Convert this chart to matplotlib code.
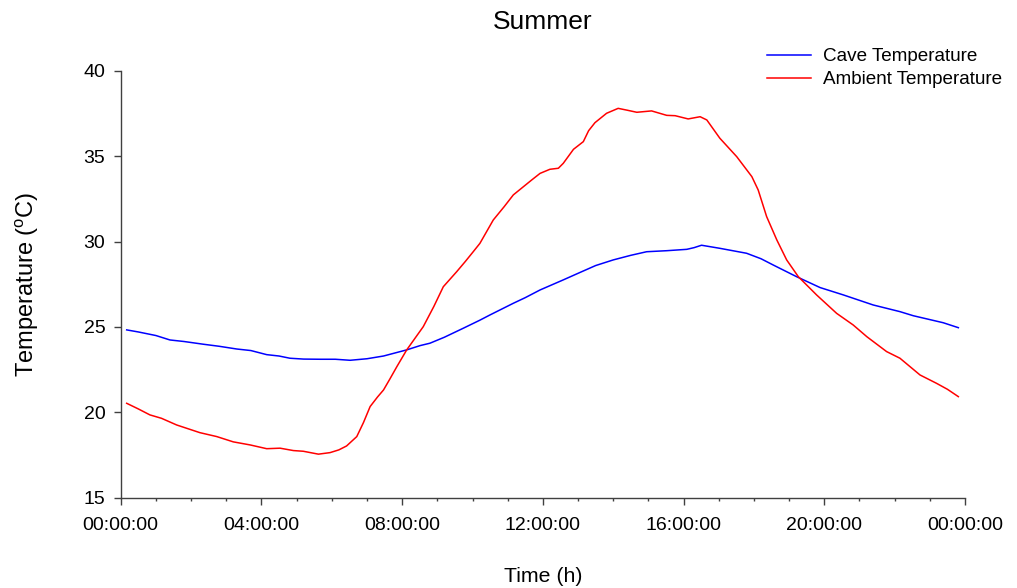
import matplotlib
matplotlib.use("Agg")
from matplotlib import pyplot as plt
from matplotlib.ticker import MultipleLocator, FuncFormatter

plt.rcParams["font.family"] = ["Liberation Sans", "DejaVu Sans"]
plt.rcParams["mathtext.fontset"] = "custom"
plt.rcParams["mathtext.rm"] = "Liberation Sans"
plt.rcParams["mathtext.it"] = "Liberation Sans:italic"

# values (hours since midnight, deg C)
cave_hours = [0.17, 0.5, 1.0, 1.4, 1.8, 2.35, 2.8, 3.3, 3.7, 4.15, 4.5, 4.81, 5.2,
              5.67, 6.1, 6.52, 7.0, 7.47, 8.13, 8.51, 8.79, 9.2, 9.74, 10.21, 10.5,
              11.16, 11.5, 11.92, 12.58, 13.06, 13.5, 14.0, 14.5, 14.95, 15.52,
              16.09, 16.3, 16.51, 17.03, 17.79, 18.2, 18.55, 19.21, 19.88, 20.54,
              21.39, 22.15, 22.53, 23.38, 23.81]
cave_temp = [24.83, 24.71, 24.5, 24.24, 24.15, 23.99, 23.87, 23.71, 23.62, 23.38,
             23.3, 23.17, 23.12, 23.11, 23.11, 23.05, 23.14, 23.3, 23.66, 23.91,
             24.05, 24.4, 24.93, 25.4, 25.71, 26.39, 26.72, 27.17, 27.76, 28.2,
             28.6, 28.93, 29.2, 29.41, 29.47, 29.55, 29.65, 29.79, 29.61, 29.32,
             29.0, 28.63, 27.95, 27.31, 26.88, 26.29, 25.9, 25.66, 25.25, 24.96]

amb_hours = [0.17, 0.5, 0.83, 1.16, 1.59, 2.25, 2.73, 3.2, 3.68, 4.15, 4.53, 4.91,
             5.19, 5.62, 5.95, 6.2, 6.42, 6.71, 6.9, 7.09, 7.3, 7.47, 7.65, 7.85,
             8.13, 8.6, 8.9, 9.17, 9.55, 9.8, 10.02, 10.21, 10.59, 10.9, 11.16,
             11.68, 11.92, 12.2, 12.44, 12.58, 12.87, 13.15, 13.3, 13.48, 13.81,
             14.14, 14.4, 14.67, 15.09, 15.52, 15.76, 16.13, 16.47, 16.66, 17.03,
             17.51, 17.94, 18.12, 18.36, 18.65, 18.93, 19.26, 19.78, 20.35, 20.82,
             21.21, 21.77, 22.15, 22.72, 23.19, 23.5, 23.81]
amb_temp = [20.53, 20.2, 19.85, 19.65, 19.26, 18.81, 18.58, 18.27, 18.09, 17.87,
            17.9, 17.76, 17.72, 17.55, 17.64, 17.8, 18.03, 18.58, 19.4, 20.34,
            20.9, 21.31, 21.95, 22.68, 23.66, 25.02, 26.2, 27.36, 28.24, 28.85,
            29.41, 29.9, 31.27, 32.05, 32.74, 33.61, 34.0, 34.24, 34.3, 34.59,
            35.41, 35.86, 36.5, 36.97, 37.52, 37.81, 37.7, 37.58, 37.66, 37.4,
            37.38, 37.19, 37.32, 37.13, 36.06, 34.98, 33.81, 33.03, 31.47, 30.1,
            28.93, 27.95, 26.88, 25.8, 25.12, 24.43, 23.56, 23.17, 22.19, 21.7,
            21.35, 20.92]

fig = plt.figure(figsize=(10.17, 5.88), dpi=100)
ax = fig.add_axes([0.1187, 0.1536, 0.8302, 0.7257])

ax.plot(cave_hours, cave_temp, color="#0000ff", lw=1.1, label="Cave Temperature")
ax.plot(amb_hours, amb_temp, color="#ff0000", lw=1.1, label="Ambient Temperature")

ax.set_xlim(0, 24)
ax.set_ylim(15, 40)
ax.xaxis.set_major_locator(MultipleLocator(4))
ax.xaxis.set_minor_locator(MultipleLocator(1))
ax.yaxis.set_major_locator(MultipleLocator(5))
ax.xaxis.set_major_formatter(FuncFormatter(lambda h, p: "%02d:00:00" % (int(round(h)) % 24)))

for s in ["top", "right"]:
    ax.spines[s].set_visible(False)
for s in ["left", "bottom"]:
    ax.spines[s].set_color("#404040")
    ax.spines[s].set_linewidth(1.0)
ax.tick_params(which="major", length=5, width=1, color="#404040", labelsize=14)
ax.tick_params(which="minor", length=2.3, width=1, color="#404040")
ax.tick_params(axis="x", which="major", pad=9)
ax.tick_params(axis="y", which="major", pad=6)

ax.set_title("Summer", fontsize=19, pad=30)
ax.set_xlabel("Time (h)", fontsize=15.3, labelpad=24)
ax.set_ylabel(r"Temperature ($^{\mathrm{o}}$C)", fontsize=17, labelpad=31)

ax.legend(loc="upper right", bbox_to_anchor=(0.985, 0.918), bbox_transform=fig.transFigure,
          frameon=False, fontsize=13.6, handlelength=2.33, handletextpad=0.63,
          labelspacing=0.3, borderaxespad=0, borderpad=0)

plt.savefig("out.png", dpi=100)
